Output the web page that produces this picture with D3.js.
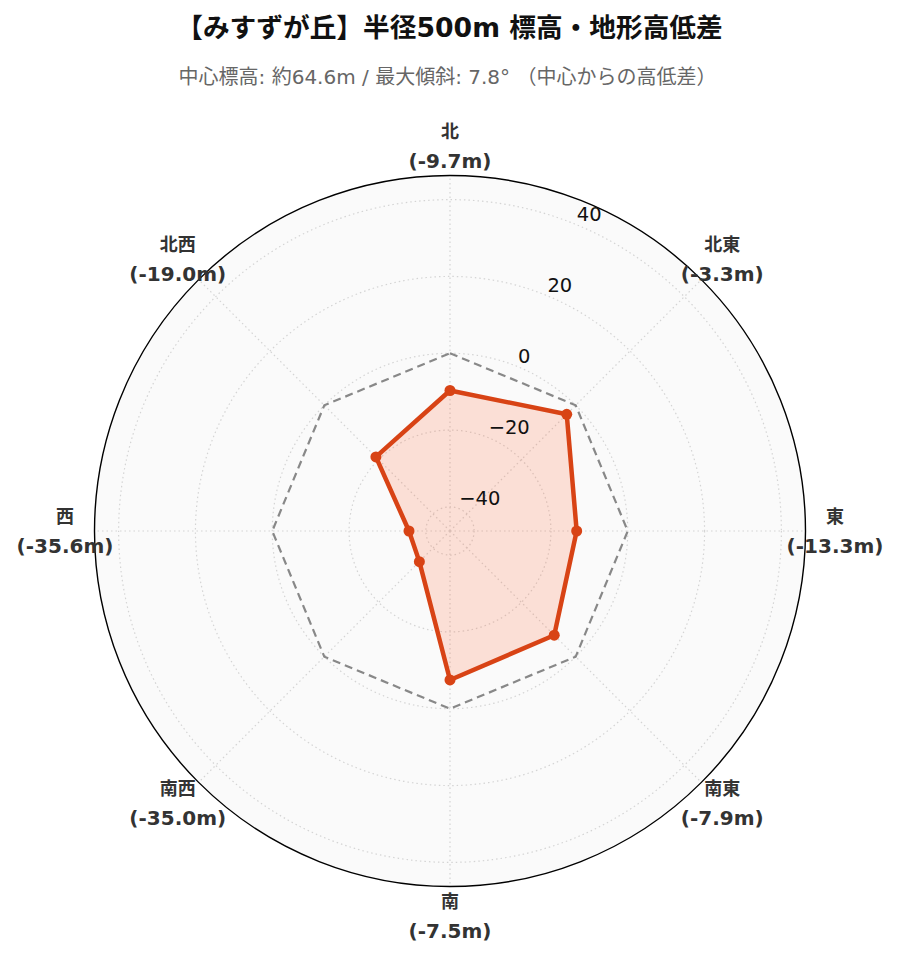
<!DOCTYPE html>
<html>
<head>
<meta charset="utf-8">
<script src="https://cdn.jsdelivr.net/npm/d3@7"></script>
<style>
  body { margin: 0; background: #fff; }
  svg { display: block; font-family: "DejaVu Sans", "Noto Sans CJK JP", sans-serif; }
</style>
</head>
<body>
<div id="chart"></div>
<script>
// Data
const directions = ["北", "北東", "東", "南東", "南", "南西", "西", "北西"];
const diffs = [-9.7, -3.3, -13.3, -7.9, -7.5, -35.0, -35.6, -19.0];
const rTicks = [-40, -20, 0, 20, 40];
const titleText = "【みすずが丘】半径500m 標高・地形高低差";
const subtitleText = "中心標高: 約64.6m / 最大傾斜: 7.8° （中心からの高低差）";

/*******************************/
/*    Declare the constants    */
/*******************************/
const width = 899;
const height = 962;
const cx = 450;
const cy = 531;
const outerR = 355.5;
const lineColor = "#d84315";
const fillColor = "#ff5722";

const svg = d3.select("#chart")
  .append("svg")
    .attr("width", width)
    .attr("height", height);

/****************************/
/*    Declare the scales    */
/****************************/
const maxAbs = d3.max(diffs, d => Math.abs(d)) * 1.3;
const rScale = d3.scaleLinear()
  .domain([-maxAbs, maxAbs])
  .range([0, outerR]);

const angleScale = d3.scalePoint()
  .domain(directions)
  .range([0, 2 * Math.PI * (directions.length - 1) / directions.length]);

const toXY = (angle, r) => [r * Math.sin(angle), -r * Math.cos(angle)];

const chart = svg.append("g")
  .attr("transform", `translate(${cx}, ${cy})`);

/*******************************/
/*    Background and grid      */
/*******************************/
chart.append("circle")
  .attr("r", outerR)
  .attr("fill", "#fafafa");

chart.selectAll(".grid-circle")
  .data(rTicks)
  .join("circle")
    .attr("class", "grid-circle")
    .attr("r", d => rScale(d))
    .attr("fill", "none")
    .attr("stroke", "#d4d4d4")
    .attr("stroke-width", 1.2)
    .attr("stroke-dasharray", "1.5,3");

chart.selectAll(".spoke")
  .data(directions)
  .join("line")
    .attr("class", "spoke")
    .attr("x1", 0)
    .attr("y1", 0)
    .attr("x2", d => toXY(angleScale(d), outerR)[0])
    .attr("y2", d => toXY(angleScale(d), outerR)[1])
    .attr("stroke", "#d4d4d4")
    .attr("stroke-width", 1.2)
    .attr("stroke-dasharray", "1.5,3");

// Zero reference octagon
const zeroLine = d3.lineRadial()
  .angle(d => angleScale(d))
  .radius(() => rScale(0))
  .curve(d3.curveLinearClosed);

chart.append("path")
  .attr("d", zeroLine(directions))
  .attr("fill", "none")
  .attr("stroke", "#888")
  .attr("stroke-width", 2.2)
  .attr("stroke-dasharray", "8,5");

/**************************/
/*    Data polygon        */
/**************************/
const dataLine = d3.lineRadial()
  .angle((d, i) => angleScale(directions[i]))
  .radius(d => rScale(d))
  .curve(d3.curveLinearClosed);

chart.append("path")
  .attr("d", dataLine(diffs))
  .attr("fill", fillColor)
  .attr("fill-opacity", 0.17)
  .attr("stroke", "none");

chart.append("path")
  .attr("d", dataLine(diffs))
  .attr("fill", "none")
  .attr("stroke", lineColor)
  .attr("stroke-width", 4.5)
  .attr("stroke-linejoin", "round");

chart.selectAll(".dot")
  .data(diffs)
  .join("circle")
    .attr("class", "dot")
    .attr("cx", (d, i) => toXY(angleScale(directions[i]), rScale(d))[0])
    .attr("cy", (d, i) => toXY(angleScale(directions[i]), rScale(d))[1])
    .attr("r", 5.5)
    .attr("fill", lineColor);

// Outer circle
chart.append("circle")
  .attr("r", outerR)
  .attr("fill", "none")
  .attr("stroke", "#000")
  .attr("stroke-width", 1.4);

/**************************/
/*    Radial tick labels  */
/**************************/
const labelAngle = Math.PI / 8;
chart.selectAll(".r-label")
  .data(rTicks)
  .join("text")
    .attr("class", "r-label")
    .attr("x", d => toXY(labelAngle, rScale(d))[0])
    .attr("y", d => toXY(labelAngle, rScale(d))[1] - 4)
    .attr("font-size", 19.5)
    .attr("fill", "#111")
    .text(d => d < 0 ? "\u2212" + Math.abs(d) : d);

/**************************/
/*    Direction labels    */
/**************************/
const labelR = 385;
const dirLabels = chart.selectAll(".dir-label")
  .data(directions)
  .join("text")
    .attr("class", "dir-label")
    .attr("text-anchor", "middle")
    .attr("font-size", 20)
    .attr("font-weight", "bold")
    .attr("fill", "#333")
    .attr("transform", d => {
      const [x, y] = toXY(angleScale(d), labelR);
      return `translate(${x}, ${y})`;
    });

dirLabels.append("tspan")
  .attr("x", 0)
  .attr("y", -8)
  .attr("font-size", 18)
  .text(d => d);

dirLabels.append("tspan")
  .attr("x", 0)
  .attr("y", 22)
  .text((d, i) => `(${diffs[i].toFixed(1)}m)`);

/**************************/
/*    Titles              */
/**************************/
svg.append("text")
  .attr("x", width / 2)
  .attr("y", 37)
  .attr("text-anchor", "middle")
  .attr("font-size", 26.7)
  .attr("font-weight", "bold")
  .attr("fill", "#111")
  .text(titleText);

svg.append("text")
  .attr("x", width / 2 - 2)
  .attr("y", 84)
  .attr("text-anchor", "middle")
  .attr("font-size", 20)
  .attr("fill", "#666")
  .text(subtitleText);
</script>
</body>
</html>
